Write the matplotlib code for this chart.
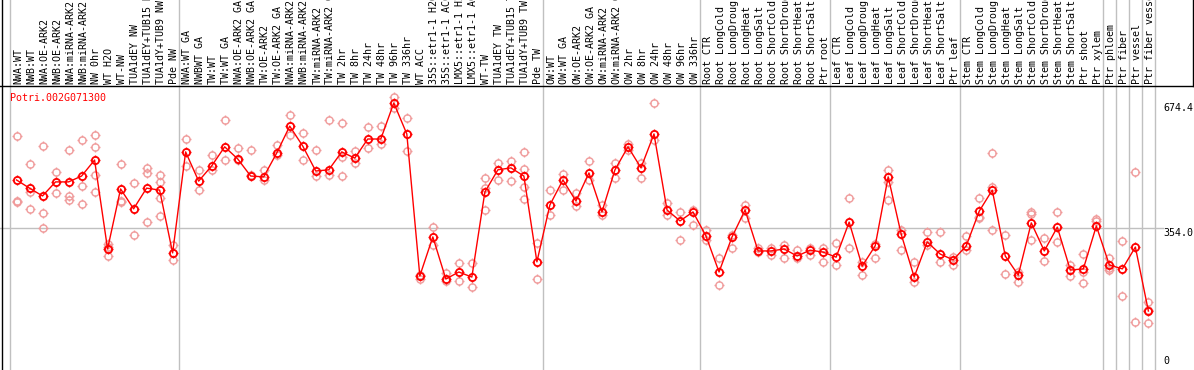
import numpy as np
import matplotlib.pyplot as plt
from matplotlib.path import Path
from matplotlib.lines import Line2D

# sample labels (long names are clipped at the top edge, as in the source)
labels = [
    "NWA:WT", "NWB:WT", "NWA:OE-ARK2", "NWB:OE-ARK2", "NWA:miRNA-ARK2", "NWB:miRNA-ARK2",
    "NW 0hr", "WT H2O", "WT-NW", "TUA1dEY NW", "TUA1dEY+TUB15 NW", "TUA1dY+TUB9 NW", "Pde NW",
    "NWA:WT GA", "NWBWT GA", "TW:WT", "TW:WT GA", "NWA:OE-ARK2 GA", "NWB:OE-ARK2 GA",
    "TW:OE-ARK2", "TW:OE-ARK2 GA", "NWA:miRNA-ARK2 GA", "NWB:miRNA-ARK2 GA", "TW:miRNA-ARK2",
    "TW:miRNA-ARK2 GA", "TW 2hr", "TW 8hr", "TW 24hr", "TW 48hr", "TW 96hr", "TW 336hr",
    "WT ACC", "35S::etr1-1 H2O", "35S::etr1-1 ACC", "LMX5::etr1-1 H2O", "LMX5::etr1-1 ACC",
    "WT-TW", "TUA1dEY TW", "TUA1dEY+TUB15 TW", "TUA1dY+TUB9 TW", "Pde TW",
    "OW:WT", "OW:WT GA", "OW:OE-ARK2", "OW:OE-ARK2 GA", "OW:miRNA-ARK2", "OW:miRNA-ARK2 GA",
    "OW 2hr", "OW 8hr", "OW 24hr", "OW 48hr", "OW 96hr", "OW 336hr",
    "Root CTR", "Root LongCold", "Root LongDrought", "Root LongHeat", "Root LongSalt",
    "Root ShortCold", "Root ShortDrought", "Root ShortHeat", "Root ShortSalt", "Ptr root",
    "Leaf CTR", "Leaf LongCold", "Leaf LongDrought", "Leaf LongHeat", "Leaf LongSalt",
    "Leaf ShortCold", "Leaf ShortDrought", "Leaf ShortHeat", "Leaf ShortSalt", "Ptr leaf",
    "Stem CTR", "Stem LongCold", "Stem LongDrought", "Stem LongHeat", "Stem LongSalt",
    "Stem ShortCold", "Stem ShortDrought", "Stem ShortHeat", "Stem ShortSalt", "Ptr shoot",
    "Ptr xylem", "Ptr phloem", "Ptr fiber", "Ptr vessel", "Ptr fiber vessel",
]

means = [
    477, 456, 436, 472, 472, 487, 528, 300, 454, 403, 456, 451, 290,
    549, 474, 513, 562, 531, 487, 485, 546, 615, 564, 500, 503, 549, 533, 582, 582, 674.4,
    595, 231, 331, 223, 241, 228, 446, 503, 508, 487, 267,
    413, 477, 423, 495, 395, 503, 562, 508, 595, 400, 372, 395,
    333, 241, 331, 400, 295, 295, 300, 282, 297, 292,
    279, 369, 256, 308, 485, 338, 228, 318, 287, 272,
    308, 397, 451, 282, 233, 367, 295, 356, 246, 249, 359,
    259, 249, 305, 141,
]

# replicate values per sample
reps = [
    [590, 423, 420], [518, 446, 403], [564, 392, 354], [497, 444], [554, 436, 426],
    [580, 462, 415], [592, 562, 490, 446], [313, 282, 305], [518, 423, 420], [469, 336],
    [508, 495, 369], [490, 472, 431, 385], [310, 272],
    [582, 513], [503, 451], [541, 503], [631, 528], [559, 528], [554, 490], [503, 477],
    [567, 541], [644, 592], [597, 528], [554, 487], [631, 490],
    [623, 536, 487], [551, 521], [613, 559], [615, 569], [690, 662], [636, 551],
    [233, 223], [356, 310], [238, 218], [264, 218], [264, 203],
    [482, 456, 400], [521, 477], [526, 474], [549, 505, 459, 428], [315, 223],
    [451, 387], [492, 451], [444, 410], [526, 477], [413, 387], [521, 482],
    [569, 554], [521, 482], [674, 580], [418, 387], [395, 323], [400, 362],
    [349, 323], [277, 208], [336, 303], [413, 380], [303, 292], [303, 285],
    [310, 277], [297, 277], [303, 285], [303, 267],
    [315, 259], [431, 303], [267, 233], [313, 277], [503, 472, 426], [349, 297],
    [267, 215], [344, 310], [344, 267], [280, 259],
    [333, 297], [431, 382, 380], [546, 459, 349], [336, 236], [241, 215],
    [395, 390, 323], [328, 269], [395, 318], [259, 231], [287, 241, 213], [377, 372],
    [277, 246, 251], [321, 180], [497, 113], [164, 110, 144],
]

group_edges = [-0.5, 12.5, 40.5, 52.5, 62.5, 72.5, 83.5, 84.5, 85.5, 86.5, 87.5]
tick_values = [674.4, 354.0, 0]
gene = "Potri.002G071300"

W, H = 1194, 370
PLOT_TOP = 86
step = 13.01
x0 = 10.0


def px_to_slot(p):
    return (p - x0) / step - 0.5


fig = plt.figure(figsize=(W / 100, H / 100), dpi=100)
ax = fig.add_axes([0, 0, 1, (H - PLOT_TOP) / H])
lab = fig.add_axes([0, (H - PLOT_TOP) / H, 1, PLOT_TOP / H], sharex=ax)

for a in (ax, lab):
    a.set_axis_off()
ax.set_xlim(px_to_slot(0), px_to_slot(W))
ax.set_ylim(-10.26, 717.9)
lab.set_ylim(0, PLOT_TOP)

grey = "#c0c0c0"
for e in group_edges:
    ax.axvline(e, color=grey, lw=1, zorder=0)
    lab.axvline(e, color=grey, lw=1, zorder=0)
ax.axhline(354.0, xmin=0, xmax=1163 / W, color=grey, lw=1, zorder=0)

# frame lines
fig.add_artist(Line2D([0, 1], [(H - PLOT_TOP) / H] * 2, color="black", lw=1))
fig.add_artist(Line2D([1.5 / W] * 2, [0, 1], color="black", lw=1))
fig.add_artist(Line2D([1 - 1.5 / W] * 2, [(H - PLOT_TOP) / H, 1], color="black", lw=1))

mono = "DejaVu Sans Mono"
fs = 7.2
for i, name in enumerate(labels):
    lab.text(i + 0.12, 2, name, rotation=90, ha="center", va="bottom",
             fontsize=fs, family=mono, color="black", clip_on=False)

# ticks marker: four short spikes around the circle
spikes = Path(
    [(0, 0.7), (0, 1), (0, -0.7), (0, -1), (0.7, 0), (1, 0), (-0.7, 0), (-1, 0)],
    [Path.MOVETO, Path.LINETO] * 4,
)

x = np.arange(len(means))
rep_x = [i for i, r in enumerate(reps) for _ in r]
rep_y = [v for r in reps for v in r]
rep_col = "#f09a9a"
ax.plot(rep_x, rep_y, ls="none", marker="o", ms=5.2, mfc="none", mec=rep_col, mew=1.0, zorder=2)
ax.plot(rep_x, rep_y, ls="none", marker=spikes, ms=6.8, mec=rep_col, mew=1.0, zorder=2)

ax.plot(x, means, color="red", lw=1, zorder=3)
ax.plot(x, means, ls="none", marker="o", ms=5.2, mfc="none", mec="red", mew=1.3, zorder=4)
ax.plot(x, means, ls="none", marker=spikes, ms=6.8, mec="red", mew=1.0, zorder=4)

ax.text(10 / W, 1 - 7 / (H - PLOT_TOP), gene, transform=ax.transAxes, ha="left", va="top",
        fontsize=fs, family=mono, color="red")

tr = ax.get_yaxis_transform()
for v in tick_values:
    ax.text(1163 / W, v, f"{v:.1f}" if v else "0", transform=tr, ha="left",
            va="top" if v else "bottom", fontsize=fs, family=mono, color="black")

fig.savefig("out.png", dpi=100)
